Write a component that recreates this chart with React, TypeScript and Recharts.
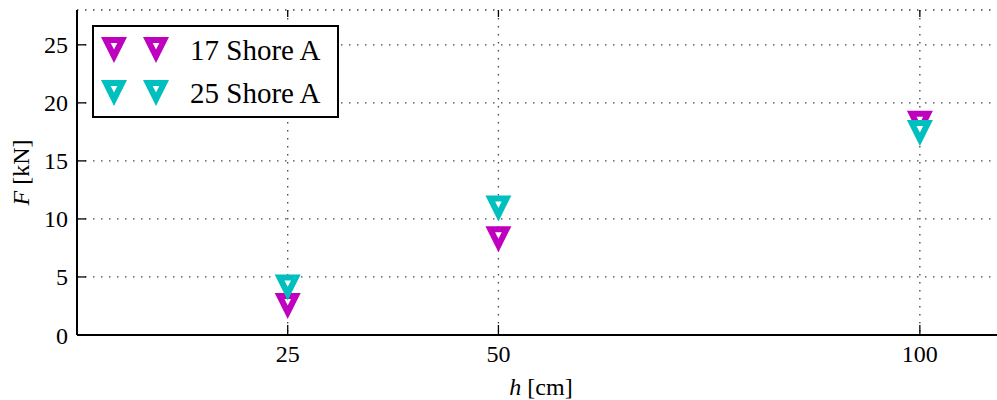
import React from 'react';
import { ScatterChart, Scatter, XAxis, YAxis, CartesianGrid, Legend } from 'recharts';

const heights = [25, 50, 100];
const force17 = [2.5, 8.25, 18.2];
const force25 = [4.1, 10.9, 17.4];
const xTicks = [25, 50, 100];
const yTicks = [0, 5, 10, 15, 20, 25];
const seriesNames = ['17 Shore A', '25 Shore A'];
const seriesColors = ['#BF00BF', '#00BFBF'];

const data17 = heights.map((h, i) => ({ h, f: force17[i] }));
const data25 = heights.map((h, i) => ({ h, f: force25[i] }));

const FONT = '"Liberation Serif", "Times New Roman", serif';
const PLOT_TOP = 10;

const tri = (cx: number, cy: number, color: string) => (
  <g>
    <polygon points={`${cx - 13},${cy - 13} ${cx + 13},${cy - 13} ${cx},${cy + 13}`} fill={color} />
    <polygon points={`${cx - 3.3},${cy - 7} ${cx + 3.3},${cy - 7} ${cx},${cy - 0.6}`} fill="#fff" />
  </g>
);

const makeShape = (color: string) => (props: any) => {
  const { cx, cy } = props;
  if (cx == null || cy == null) return <g />;
  return tri(cx, cy, color);
};

const XTick = (props: any) => {
  const { x, y, payload } = props;
  const axisY = y - 10;
  return (
    <g>
      <line x1={x} x2={x} y1={axisY} y2={axisY - 10} stroke="#000" strokeWidth={1.3} />
      <line x1={x} x2={x} y1={PLOT_TOP} y2={PLOT_TOP + 7} stroke="#000" strokeWidth={1.3} />
      <text x={x} y={y} dy="0.71em" textAnchor="middle" fontFamily={FONT} fontSize={24} fill="#000">
        {payload.value}
      </text>
    </g>
  );
};

const YTick = (props: any) => {
  const { x, y, payload } = props;
  const axisX = x + 9;
  return (
    <g>
      <line x1={axisX} x2={axisX + 9} y1={y} y2={y} stroke="#000" strokeWidth={1.3} />
      <text x={x} y={y} dy="0.355em" textAnchor="end" fontFamily={FONT} fontSize={24} fill="#000">
        {payload.value}
      </text>
    </g>
  );
};

const XLabel = () => (
  <text x={541} y={395} textAnchor="middle" fontFamily={FONT} fontSize={24} fill="#000">
    <tspan fontStyle="italic">h</tspan>
    <tspan> [cm]</tspan>
  </text>
);

const YLabel = (props: any) => {
  const vb = props.viewBox;
  const cx = 21;
  const cy = vb.y + vb.height / 2;
  return (
    <text
      x={cx}
      y={cy}
      transform={`rotate(-90, ${cx}, ${cy})`}
      textAnchor="middle"
      dominantBaseline="central"
      fontFamily={FONT}
      fontSize={24}
      fill="#000"
    >
      <tspan fontStyle="italic">F</tspan>
      <tspan> [kN]</tspan>
    </text>
  );
};

const LegendContent = () => (
  <div
    style={{
      width: 247,
      height: 93,
      boxSizing: 'border-box',
      border: '2px solid #000',
      background: '#fff',
      position: 'relative',
    }}
  >
    {seriesNames.map((name, i) => {
      const cy = i === 0 ? 24 : 67;
      return (
        <div key={name}>
          <svg width={90} height={40} style={{ position: 'absolute', left: 0, top: cy - 22 }}>
            {tri(20, 21, seriesColors[i])}
            {tri(62, 21, seriesColors[i])}
          </svg>
          <div
            style={{
              position: 'absolute',
              left: 96,
              top: cy - 19,
              fontFamily: FONT,
              fontSize: 29,
              lineHeight: '36px',
              color: '#000',
              whiteSpace: 'nowrap',
            }}
          >
            {name}
          </div>
        </div>
      );
    })}
  </div>
);

export default function App() {
  return (
    <div
      style={{
        position: 'fixed',
        left: 0,
        top: 0,
        width: 997,
        height: 400,
        overflow: 'hidden',
        background: '#fff',
      }}
    >
      <ScatterChart width={1021} height={400} margin={{ top: PLOT_TOP, right: 0, bottom: 0, left: 0 }}>
        <CartesianGrid stroke="#444" strokeWidth={1.3} strokeDasharray="1.5 6.5" />
        <XAxis
          type="number"
          dataKey="h"
          domain={[0, 112]}
          ticks={xTicks}
          height={65}
          tickSize={0}
          tickMargin={10}
          tick={<XTick />}
          axisLine={{ stroke: '#000', strokeWidth: 2 }}
          tickLine={false}
          allowDataOverflow
          label={{ content: <XLabel /> }}
        />
        <XAxis
          xAxisId="top"
          orientation="top"
          type="number"
          domain={[0, 112]}
          ticks={xTicks}
          height={0}
          tick={false}
          tickLine={false}
          axisLine={{ stroke: '#000', strokeWidth: 2 }}
          allowDataOverflow
        />
        <YAxis
          type="number"
          dataKey="f"
          domain={[0, 28]}
          ticks={yTicks}
          width={77}
          tickSize={0}
          tickMargin={9}
          tick={<YTick />}
          axisLine={{ stroke: '#000', strokeWidth: 2 }}
          tickLine={false}
          allowDataOverflow
          label={{ content: <YLabel /> }}
        />
        <Legend
          layout="vertical"
          align="center"
          verticalAlign="middle"
          content={<LegendContent />}
          wrapperStyle={{ position: 'absolute', left: 92, top: 25, width: 247, height: 93 }}
        />
        <Scatter
          name={seriesNames[0]}
          data={data17}
          fill={seriesColors[0]}
          shape={makeShape(seriesColors[0])}
          isAnimationActive={false}
        />
        <Scatter
          name={seriesNames[1]}
          data={data25}
          fill={seriesColors[1]}
          shape={makeShape(seriesColors[1])}
          isAnimationActive={false}
        />
      </ScatterChart>
    </div>
  );
}
